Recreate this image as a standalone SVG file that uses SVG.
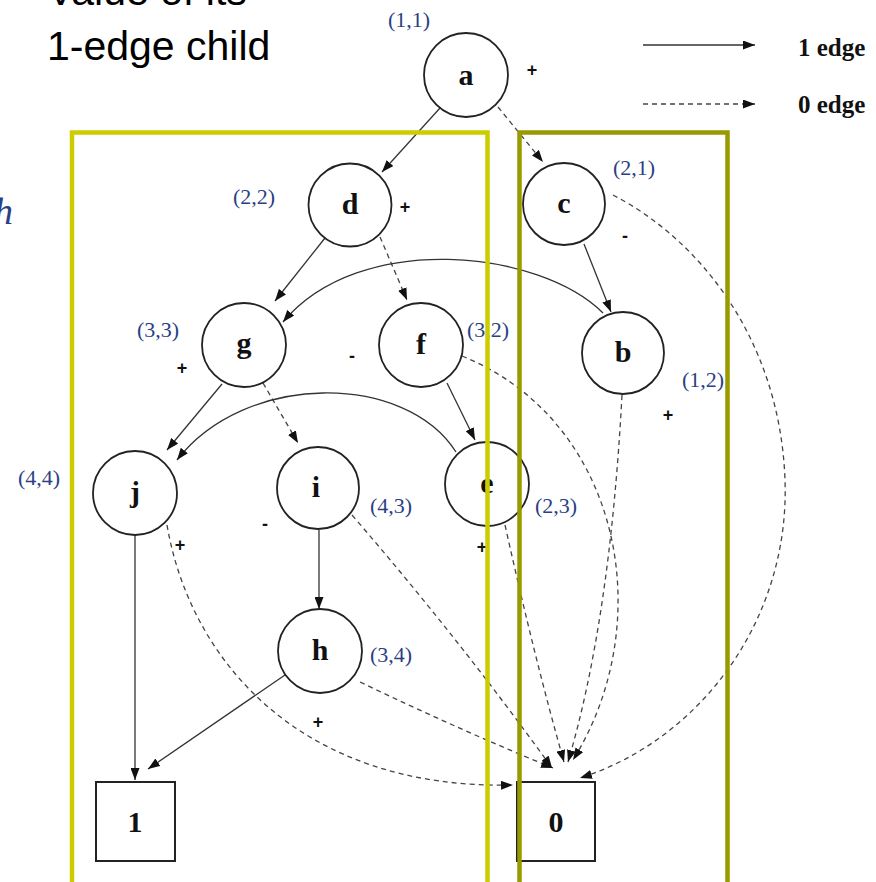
<svg xmlns="http://www.w3.org/2000/svg" width="876" height="882" viewBox="0 0 876 882">
<style>
.bg{fill:#fff}
.nc{fill:#fff;stroke:#222;stroke-width:1.8}
.box{fill:#fff;stroke:#222;stroke-width:2}
.lbl{font-family:"Liberation Serif",serif;font-weight:bold;font-size:30px;fill:#111;text-anchor:middle}
.coord{font-family:"Liberation Serif",serif;font-size:22px;fill:#2b3f85}
.sign{font-family:"Liberation Sans",sans-serif;font-weight:bold;font-size:18px;fill:#111;text-anchor:middle}
.one{fill:none;stroke:#333;stroke-width:1.3;marker-end:url(#ah)}
.zero{fill:none;stroke:#444;stroke-width:1.3;stroke-dasharray:5 4;marker-end:url(#ah)}
.title{font-family:"Liberation Sans",Arial,sans-serif;font-size:41px;fill:#000}
.leg{font-family:"Liberation Serif",serif;font-weight:bold;font-size:25px;fill:#111}
</style>
<defs>
<marker id="ah" markerUnits="userSpaceOnUse" markerWidth="13" markerHeight="9" refX="12" refY="4.5" orient="auto">
<path d="M0,0 L12,4.5 L0,9 z" fill="#111"/>
</marker>
</defs>
<rect class="bg" x="0" y="0" width="876" height="882"/>

<text class="title" x="47" y="5">Value of its</text>
<text class="title" x="47" y="60">1-edge child</text>
<text x="-6" y="224" font-family="Liberation Serif,serif" font-style="italic" font-size="38" fill="#2b3f85">h</text>

<g id="legend">
<path class="one" d="M643,45 L755,45"/>
<path class="zero" d="M643,104 L755,104"/>
<text class="leg" x="798" y="56">1 edge</text>
<text class="leg" x="798" y="113">0 edge</text>
</g>

<g id="connectors">
<path class="one" d="M440,108 L382,172"/>
<path class="zero" d="M498,107 L543,162"/>
<path class="one" d="M325,238 L275,301"/>
<path class="zero" d="M380,237 L407,300"/>
<path class="one" d="M584,244 L611,312"/>
<path class="zero" d="M613,195 C700,240 780,340 785,480 C790,620 700,740 580,778"/>
<path class="one" d="M603,313 C540,250 360,230 283,322"/>
<path class="one" d="M447,383 L475,440"/>
<path class="zero" d="M462,356 C620,420 660,620 573,760"/>
<path class="zero" d="M622,395 Q610,620 568,762"/>
<path class="zero" d="M505,525 Q535,660 564,762"/>
<path class="zero" d="M352,515 Q460,640 552,768"/>
<path class="zero" d="M360,682 Q460,730 553,768"/>
<path class="zero" d="M167,525 C190,660 300,790 513,785"/>
<path class="one" d="M222,384 L167,450"/>
<path class="zero" d="M263,383 L298,443"/>
<path class="one" d="M456,452 C405,372 245,372 177,460"/>
<path class="one" d="M319,530 L319,609"/>
<path class="one" d="M135,535 L135,780"/>
<path class="one" d="M285,675 L148,769"/>
</g>

<g id="node-a"><circle class="nc" cx="466" cy="75" r="42"/><text class="lbl" x="466" y="85">a</text><text class="coord" x="388" y="27">(1,1)</text><text class="sign" x="532" y="76">+</text></g>
<g id="node-d"><circle class="nc" cx="350" cy="205" r="41.5"/><text class="lbl" x="350" y="214">d</text><text class="coord" x="233" y="204">(2,2)</text><text class="sign" x="405" y="213">+</text></g>
<g id="node-c"><circle class="nc" cx="564" cy="204" r="41"/><text class="lbl" x="564" y="213">c</text><text class="coord" x="613" y="175">(2,1)</text><text class="sign" x="625" y="242">-</text></g>
<g id="node-g"><circle class="nc" cx="244" cy="345" r="42"/><text class="lbl" x="244" y="353">g</text><text class="coord" x="137" y="337">(3,3)</text><text class="sign" x="182" y="374">+</text></g>
<g id="node-f"><circle class="nc" cx="421" cy="345" r="42"/><text class="lbl" x="421" y="354">f</text><text class="coord" x="467" y="337">(3,2)</text><text class="sign" x="352" y="362">-</text></g>
<g id="node-b"><circle class="nc" cx="623" cy="353" r="41"/><text class="lbl" x="623" y="362">b</text><text class="coord" x="682" y="387">(1,2)</text><text class="sign" x="668" y="421">+</text></g>
<g id="node-j"><circle class="nc" cx="135" cy="493" r="42"/><text class="lbl" x="135" y="502">j</text><text class="coord" x="18" y="485">(4,4)</text><text class="sign" x="180" y="551">+</text></g>
<g id="node-i"><circle class="nc" cx="318" cy="488" r="41"/><text class="lbl" x="316" y="497">i</text><text class="coord" x="370" y="513">(4,3)</text><text class="sign" x="265" y="530">-</text></g>
<g id="node-e"><circle class="nc" cx="487" cy="484" r="42"/><text class="lbl" x="487" y="493">e</text><text class="coord" x="535" y="513">(2,3)</text><text class="sign" x="482" y="553">+</text></g>
<g id="node-h"><circle class="nc" cx="320" cy="651" r="42"/><text class="lbl" x="320" y="660">h</text><text class="coord" x="370" y="662">(3,4)</text><text class="sign" x="318" y="728">+</text></g>
<g id="node-1"><rect class="box" x="96" y="782" width="79" height="79"/><text class="lbl" x="135" y="832" font-size="28">1</text></g>
<g id="node-0"><rect class="box" x="517" y="782" width="78" height="79"/><text class="lbl" x="556" y="832" font-size="28">0</text></g>

<g id="regions">
<rect x="72" y="132.5" width="415.5" height="800" fill="none" stroke="#cccc00" stroke-width="4.5"/>
<rect x="519.5" y="132.5" width="208" height="800" fill="none" stroke="#999900" stroke-width="4.5"/>
</g>
</svg>
